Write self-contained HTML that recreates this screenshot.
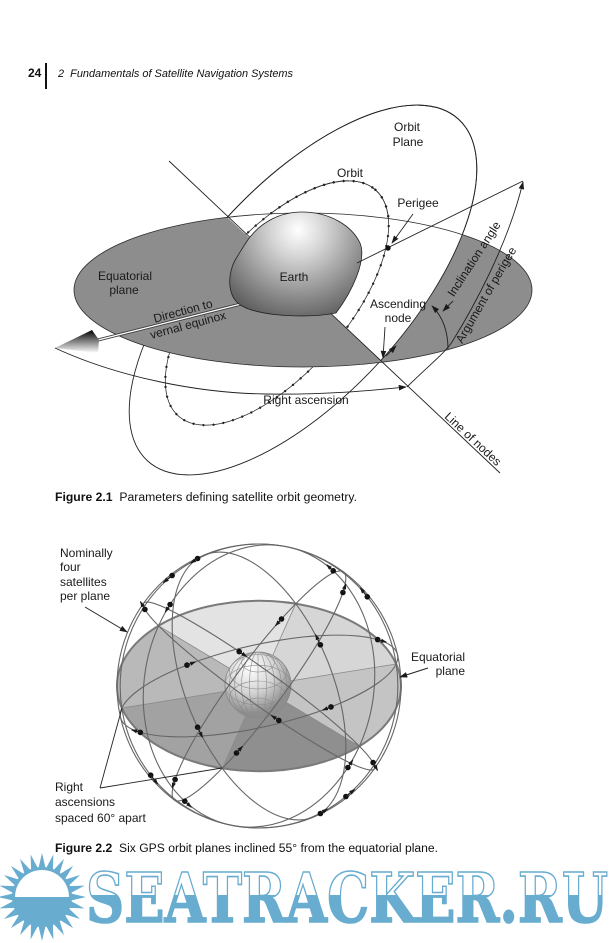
<!DOCTYPE html>
<html><head><meta charset="utf-8"><style>
html,body{margin:0;padding:0;background:#fff;}
svg{display:block;}
</style></head><body>
<svg width="616" height="943" viewBox="0 0 616 943" xmlns="http://www.w3.org/2000/svg" font-family="'Liberation Sans', Arial, sans-serif">
<defs>
  <marker id="ah" viewBox="0 0 10 10" refX="9" refY="5" markerWidth="8" markerHeight="8" markerUnits="userSpaceOnUse" orient="auto"><path d="M0,1.5 L10,5 L0,8.5 z" fill="#1a1a1a"/></marker>
  <marker id="ah2" viewBox="0 0 10 10" refX="9" refY="5" markerWidth="6" markerHeight="6" markerUnits="userSpaceOnUse" orient="auto"><path d="M0,1.5 L10,5 L0,8.5 z" fill="#1a1a1a"/></marker>
  <radialGradient id="earthG" gradientUnits="userSpaceOnUse" cx="298" cy="230" r="105">
    <stop offset="0" stop-color="#ffffff"/>
    <stop offset="0.25" stop-color="#d6d6d6"/>
    <stop offset="0.65" stop-color="#8a8a8a"/>
    <stop offset="1" stop-color="#4a4a4a"/>
  </radialGradient>
  <linearGradient id="coneG" x1="0" y1="0" x2="0" y2="1">
    <stop offset="0" stop-color="#000"/>
    <stop offset="0.45" stop-color="#777"/>
    <stop offset="1" stop-color="#fff"/>
  </linearGradient>
  <radialGradient id="globeG" gradientUnits="userSpaceOnUse" cx="250" cy="668" r="45">
    <stop offset="0" stop-color="#ffffff"/>
    <stop offset="0.55" stop-color="#d4d4d4"/>
    <stop offset="1" stop-color="#8e8e8e"/>
  </radialGradient>
  <linearGradient id="wmg" gradientUnits="userSpaceOnUse" x1="0" y1="872" x2="0" y2="922">
    <stop offset="0" stop-color="#ffffff"/>
    <stop offset="0.46" stop-color="#ffffff"/>
    <stop offset="0.46" stop-color="#68acd0"/>
    <stop offset="1" stop-color="#68acd0"/>
  </linearGradient>
  <clipPath id="eqclip"><ellipse cx="303" cy="290" rx="229" ry="77"/></clipPath>
  <clipPath id="rhp"><polygon points="-83,-73 692,652 1000,652 1000,-73"/></clipPath>
  <clipPath id="globeclip"><circle cx="258" cy="685" r="33"/></clipPath>
</defs>
<rect width="616" height="943" fill="#fff"/>

<!-- Header -->
<text x="28" y="77" font-size="12" font-weight="bold" fill="#111">24</text>
<rect x="45" y="63" width="2" height="26" fill="#111"/>
<text x="58" y="77" font-size="11" font-style="italic" fill="#111" textLength="235" lengthAdjust="spacingAndGlyphs">2&#160; Fundamentals of Satellite Navigation Systems</text>

<!-- ================= Figure 2.1 ================= -->
<ellipse cx="303" cy="290" rx="231" ry="105" transform="rotate(-47.7 303 290)" fill="none" stroke="#222" stroke-width="0.9"/>
<g transform="rotate(-49 277 303)">
  <ellipse cx="277" cy="303" rx="150" ry="70" fill="none" stroke="#333" stroke-width="0.8"/>
  <ellipse cx="277" cy="303" rx="150" ry="70" fill="none" stroke="#222" stroke-width="2.3" stroke-dasharray="0 10" stroke-linecap="round"/>
</g>
<ellipse cx="303" cy="290" rx="229" ry="77" fill="#8d8d8d"/>
<g clip-path="url(#eqclip)">
  <g clip-path="url(#rhp)">
    <ellipse cx="303" cy="290" rx="231" ry="105" transform="rotate(-47.7 303 290)" fill="#fff"/>
  </g>
</g>
<g clip-path="url(#rhp)">
  <g>
    <ellipse cx="303" cy="290" rx="231" ry="105" transform="rotate(-47.7 303 290)" fill="none" stroke="#222" stroke-width="0.9"/>
  </g>
  <g>
    <g transform="rotate(-49 277 303)">
      <ellipse cx="277" cy="303" rx="150" ry="70" fill="none" stroke="#333" stroke-width="0.8"/>
      <ellipse cx="277" cy="303" rx="150" ry="70" fill="none" stroke="#222" stroke-width="2.3" stroke-dasharray="0 10" stroke-linecap="round"/>
    </g>
  </g>
</g>
<ellipse cx="303" cy="290" rx="229" ry="77" fill="none" stroke="#2a2a2a" stroke-width="0.8"/>
<line x1="169" y1="161" x2="500" y2="473" stroke="#222" stroke-width="0.9"/>
<line x1="98" y1="340" x2="245" y2="303" stroke="#3a3a3a" stroke-width="3"/>
<line x1="98" y1="340" x2="245" y2="303" stroke="#fff" stroke-width="1.3"/>
<polygon points="55,348 92,330 99,340 98,353" fill="url(#coneG)"/>
<path d="M250,237 C262,222 280,212 302,212 C330,212 352,226 360,243 C367,260 352,292 336,313 C310,318 262,317 242,306 C226,297 227,272 237,257 C242,249 246,242 250,237 Z" fill="url(#earthG)" stroke="#222" stroke-width="0.8"/>
<line x1="357" y1="263" x2="523" y2="181" stroke="#222" stroke-width="0.9"/>
<circle cx="388" cy="248" r="2.7" fill="#111"/>
<path d="M55,348 C120,378 200,393 265,394 C330,395 375,390 406,387" fill="none" stroke="#222" stroke-width="0.9" marker-end="url(#ah)"/>
<path d="M407,387 C428,366 444,354 452,342 C472,310 508,245 523,182" fill="none" stroke="#222" stroke-width="0.9" marker-end="url(#ah)"/>
<path d="M448,349 Q448,322 432,306" fill="none" stroke="#222" stroke-width="0.9" marker-end="url(#ah)"/>
<line x1="413" y1="214" x2="392" y2="243" stroke="#222" stroke-width="0.9" marker-end="url(#ah)"/>
<line x1="385" y1="327" x2="383" y2="358" stroke="#222" stroke-width="0.9" marker-end="url(#ah)"/>
<line x1="453" y1="301" x2="443" y2="311" stroke="#222" stroke-width="0.9" marker-end="url(#ah)"/>
<line x1="386" y1="356" x2="396" y2="346" stroke="#222" stroke-width="0.9" marker-end="url(#ah)"/>

<g font-size="12" fill="#1a1a1a" text-anchor="middle">
  <text x="407" y="131">Orbit</text>
  <text x="408" y="146">Plane</text>
  <text x="350" y="177">Orbit</text>
  <text x="418" y="207">Perigee</text>
  <text x="125" y="280">Equatorial</text>
  <text x="124" y="294">plane</text>
  <text x="294" y="281">Earth</text>
  <text x="398" y="308">Ascending</text>
  <text x="398" y="322">node</text>
  <text x="306" y="404">Right ascension</text>
  <text transform="translate(183,311) rotate(-15)" y="4">Direction to</text>
  <text transform="translate(188,325) rotate(-15)" y="4">vernal equinox</text>
  <text transform="translate(473,439) rotate(43)" y="4">Line of nodes</text>
  <text transform="translate(474,259) rotate(-57)" y="4">Inclination angle</text>
  <text transform="translate(486,295) rotate(-60)" y="4">Argument of perigee</text>
</g>

<text x="55" y="501" font-size="11.5" fill="#111" textLength="302" lengthAdjust="spacingAndGlyphs"><tspan font-weight="bold">Figure 2.1</tspan>&#160; Parameters defining satellite orbit geometry.</text>

<!-- ================= Figure 2.2 ================= -->
<g stroke="none">
  <path d="M259,686 L396.2,664 A142,85.2 0 0 0 295.8,603.7 Z" fill="#d6d6d6"/>
  <path d="M259,686 L295.8,603.7 A142,85.2 0 0 0 158.6,625.8 Z" fill="#e3e3e3"/>
  <path d="M259,686 L158.6,625.8 A142,85.2 0 0 0 121.8,708 Z" fill="#b9b9b9"/>
  <path d="M259,686 L121.8,708 A142,85.2 0 0 0 222.3,768.3 Z" fill="#a2a2a2"/>
  <path d="M259,686 L222.3,768.3 A142,85.2 0 0 0 359.4,746.2 Z" fill="#8f8f8f"/>
  <path d="M259,686 L359.4,746.2 A142,85.2 0 0 0 396.2,664 Z" fill="#c4c4c4"/>
</g>
<ellipse cx="259" cy="686" rx="142" ry="85.2" fill="none" stroke="#7a7a7a" stroke-width="2"/>
<g stroke="#8a8a8a" stroke-width="0.8">
  <line x1="396.2" y1="664" x2="121.8" y2="708"/>
  <line x1="295.8" y1="603.7" x2="222.3" y2="768.3"/>
  <line x1="158.6" y1="625.8" x2="359.4" y2="746.2"/>
</g>
<circle cx="258" cy="685" r="33" fill="url(#globeG)"/>
<g clip-path="url(#globeclip)" fill="none" stroke="#8c8c8c" stroke-width="0.6">
  <ellipse cx="258" cy="685" rx="33" ry="19.8"/>
  <ellipse cx="258" cy="671.8" rx="28.6" ry="17.2"/>
  <ellipse cx="258" cy="662.1" rx="16.5" ry="9.9"/>
  <ellipse cx="258" cy="698.2" rx="28.6" ry="17.2"/>
  <ellipse cx="258" cy="707.9" rx="16.5" ry="9.9"/>
  <ellipse cx="258" cy="685" rx="8.5" ry="33"/>
  <ellipse cx="258" cy="685" rx="16.5" ry="33"/>
  <ellipse cx="258" cy="685" rx="23.3" ry="33"/>
  <ellipse cx="258" cy="685" rx="28.6" ry="33"/>
  <line x1="258" y1="650" x2="258" y2="720"/>
</g>
<circle cx="258" cy="685" r="33" fill="none" stroke="#888" stroke-width="0.8"/>
<g fill="none" stroke="#666" stroke-width="1.1">
  <circle cx="259" cy="686" r="142"/>
  <circle r="1" vector-effect="non-scaling-stroke" transform="matrix(137.2,-22.05,-21.09,-140.25,259,686)"/>
  <circle r="1" vector-effect="non-scaling-stroke" transform="matrix(36.75,-82.29,-78.67,-105.70,259,686)"/>
  <circle r="1" vector-effect="non-scaling-stroke" transform="matrix(-100.41,-60.25,-57.60,-58.50,259,686)"/>
  <circle r="1" vector-effect="non-scaling-stroke" transform="matrix(-137.16,22.05,21.09,-45.85,259,686)"/>
  <circle r="1" vector-effect="non-scaling-stroke" transform="matrix(-36.75,82.29,78.67,-80.40,259,686)"/>
  <circle r="1" vector-effect="non-scaling-stroke" transform="matrix(100.41,60.25,57.60,-127.60,259,686)"/>
</g>
<g fill="#111">
  <circle cx="367.3" cy="596.8" r="2.8"/><circle cx="172.1" cy="575.5" r="2.8"/><circle cx="150.7" cy="775.2" r="2.8"/><circle cx="345.9" cy="796.5" r="2.8"/>
  <circle cx="197.6" cy="558.5" r="2.8"/><circle cx="197.6" cy="727.2" r="2.8"/><circle cx="320.4" cy="813.5" r="2.8"/><circle cx="320.4" cy="644.8" r="2.8"/>
  <circle cx="239.2" cy="651.6" r="2.8"/><circle cx="373.1" cy="762.6" r="2.8"/><circle cx="278.8" cy="720.4" r="2.8"/><circle cx="144.9" cy="609.4" r="2.8"/>
  <circle cx="187" cy="665.1" r="2.8"/><circle cx="377.7" cy="639.6" r="2.8"/><circle cx="331" cy="706.9" r="2.8"/><circle cx="140.3" cy="732.4" r="2.8"/>
  <circle cx="236.5" cy="753" r="2.8"/><circle cx="342.9" cy="592.5" r="2.8"/><circle cx="281.5" cy="619" r="2.8"/><circle cx="175.1" cy="779.5" r="2.8"/>
  <circle cx="333.2" cy="570.8" r="2.8"/><circle cx="170.1" cy="604.5" r="2.8"/><circle cx="184.8" cy="801.2" r="2.8"/><circle cx="347.9" cy="767.5" r="2.8"/>
</g>
<g stroke="#222" stroke-width="1.2" marker-end="url(#ah2)">
  <line x1="367.3" y1="596.8" x2="360.3" y2="588"/>
  <line x1="172.1" y1="575.5" x2="163.4" y2="582.6"/>
  <line x1="150.7" y1="775.2" x2="157.7" y2="784"/>
  <line x1="345.9" y1="796.5" x2="354.6" y2="789.4"/>
  <line x1="197.6" y1="558.5" x2="190.7" y2="563.1"/>
  <line x1="197.6" y1="727.2" x2="202.5" y2="737.4"/>
  <line x1="320.4" y1="813.5" x2="327.3" y2="808.9"/>
  <line x1="320.4" y1="644.8" x2="315.5" y2="634.6"/>
  <line x1="239.2" y1="651.6" x2="246.7" y2="656.6"/>
  <line x1="373.1" y1="762.6" x2="377.6" y2="770.4"/>
  <line x1="278.8" y1="720.4" x2="271.3" y2="715.4"/>
  <line x1="144.9" y1="609.4" x2="140.4" y2="601.6"/>
  <line x1="187" y1="665.1" x2="195.4" y2="661.8"/>
  <line x1="377.7" y1="639.6" x2="386.3" y2="642.1"/>
  <line x1="331" y1="706.9" x2="322.6" y2="710.2"/>
  <line x1="140.3" y1="732.4" x2="131.7" y2="729.9"/>
  <line x1="236.5" y1="753" x2="242.5" y2="746.3"/>
  <line x1="342.9" y1="592.5" x2="345.8" y2="584"/>
  <line x1="281.5" y1="619" x2="275.5" y2="625.7"/>
  <line x1="175.1" y1="779.5" x2="172.2" y2="788"/>
  <line x1="333.2" y1="570.8" x2="326.6" y2="564.7"/>
  <line x1="170.1" y1="604.5" x2="165.2" y2="612.1"/>
  <line x1="184.8" y1="801.2" x2="191.4" y2="807.3"/>
  <line x1="347.9" y1="767.5" x2="352.8" y2="759.9"/>
</g>
<line x1="85" y1="607" x2="127" y2="632" stroke="#222" stroke-width="1" marker-end="url(#ah)"/>
<line x1="428" y1="668" x2="400" y2="677" stroke="#222" stroke-width="1" marker-end="url(#ah)"/>
<line x1="100" y1="788" x2="122" y2="708" stroke="#222" stroke-width="0.9"/>
<line x1="100" y1="788" x2="222" y2="768" stroke="#222" stroke-width="0.9"/>
<g font-size="12" fill="#1a1a1a">
  <text x="60" y="557">Nominally</text>
  <text x="60" y="571">four</text>
  <text x="60" y="586">satellites</text>
  <text x="60" y="600">per plane</text>
  <text x="465" y="661" text-anchor="end">Equatorial</text>
  <text x="465" y="675" text-anchor="end">plane</text>
  <text x="55" y="791">Right</text>
  <text x="55" y="806">ascensions</text>
  <text x="55" y="822">spaced 60° apart</text>
</g>
<text x="55" y="852" font-size="11.5" fill="#111" textLength="383" lengthAdjust="spacingAndGlyphs"><tspan font-weight="bold">Figure 2.2</tspan>&#160; Six GPS orbit planes inclined 55° from the equatorial plane.</text>

<!-- ================= Watermark ================= -->
<g fill="#68acd0">
  <polygon points="38.5,868 42,853 45.5,868" transform="rotate(0 42 897)"/>
  <polygon points="38.5,868 42,853 45.5,868" transform="rotate(15 42 897)"/>
  <polygon points="38.5,868 42,853 45.5,868" transform="rotate(30 42 897)"/>
  <polygon points="38.5,868 42,853 45.5,868" transform="rotate(45 42 897)"/>
  <polygon points="38.5,868 42,853 45.5,868" transform="rotate(60 42 897)"/>
  <polygon points="38.5,868 42,853 45.5,868" transform="rotate(75 42 897)"/>
  <polygon points="38.5,868 42,853 45.5,868" transform="rotate(90 42 897)"/>
  <polygon points="38.5,868 42,853 45.5,868" transform="rotate(105 42 897)"/>
  <polygon points="38.5,868 42,853 45.5,868" transform="rotate(120 42 897)"/>
  <polygon points="38.5,868 42,853 45.5,868" transform="rotate(135 42 897)"/>
  <polygon points="38.5,868 42,853 45.5,868" transform="rotate(150 42 897)"/>
  <polygon points="38.5,868 42,853 45.5,868" transform="rotate(165 42 897)"/>
  <polygon points="38.5,868 42,853 45.5,868" transform="rotate(180 42 897)"/>
  <polygon points="38.5,868 42,853 45.5,868" transform="rotate(195 42 897)"/>
  <polygon points="38.5,868 42,853 45.5,868" transform="rotate(210 42 897)"/>
  <polygon points="38.5,868 42,853 45.5,868" transform="rotate(225 42 897)"/>
  <polygon points="38.5,868 42,853 45.5,868" transform="rotate(240 42 897)"/>
  <polygon points="38.5,868 42,853 45.5,868" transform="rotate(255 42 897)"/>
  <polygon points="38.5,868 42,853 45.5,868" transform="rotate(270 42 897)"/>
  <polygon points="38.5,868 42,853 45.5,868" transform="rotate(285 42 897)"/>
  <polygon points="38.5,868 42,853 45.5,868" transform="rotate(300 42 897)"/>
  <polygon points="38.5,868 42,853 45.5,868" transform="rotate(315 42 897)"/>
  <polygon points="38.5,868 42,853 45.5,868" transform="rotate(330 42 897)"/>
  <polygon points="38.5,868 42,853 45.5,868" transform="rotate(345 42 897)"/>
  <circle cx="42" cy="897" r="30"/>
</g>
<path d="M15,897 A27,27 0 0 1 69,897 Z" fill="#fff"/>
<text x="86" y="922" font-family="'DejaVu Serif', 'Liberation Serif', serif" font-weight="bold" font-size="68" textLength="522" lengthAdjust="spacingAndGlyphs" fill="url(#wmg)" stroke="#68acd0" stroke-width="1.6">SEATRACKER.RU</text>
</svg>
</body></html>
